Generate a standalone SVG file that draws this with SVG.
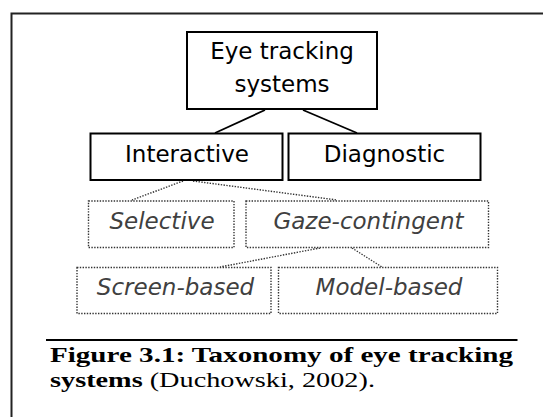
<svg xmlns="http://www.w3.org/2000/svg" width="543" height="417" viewBox="0 0 543 417">
<style>
.solid{fill:#fff;stroke:#000;stroke-width:2}
.dot{fill:#fff;stroke:#333;stroke-width:1.4;stroke-dasharray:1.4 1.4}
.t{font-family:"DejaVu Sans",Verdana,sans-serif;font-size:23px;fill:#000;text-anchor:middle}
.it{font-family:"DejaVu Sans",Verdana,sans-serif;font-size:23px;font-style:italic;fill:#404040;text-anchor:middle}
.cap{font-family:"Liberation Serif","Times New Roman",serif;font-size:22px;fill:#000}
.sl{stroke:#000;stroke-width:1.8;fill:none}
.dl{stroke:#333;stroke-width:1.4;stroke-dasharray:1.4 1.4;fill:none}
</style>
<rect width="543" height="417" fill="#fff"/>
<path d="M11.5,417 V13.5 H543" fill="none" stroke="#222" stroke-width="2"/>
<g id="connectors">
<line class="sl" x1="265" y1="110" x2="215" y2="133"/>
<line class="sl" x1="303" y1="110" x2="357" y2="133"/>
<line class="dl" x1="183" y1="181" x2="132" y2="200"/>
<line class="dl" x1="193" y1="181" x2="337" y2="200"/>
<line class="dl" x1="320" y1="248" x2="220" y2="267"/>
<line class="dl" x1="352" y1="248" x2="382" y2="267"/>
</g>
<g id="eye-tracking-systems">
<rect class="solid" x="187" y="32" width="190" height="77"/>
<text class="t" x="282" y="58.5">Eye tracking</text>
<text class="t" x="282" y="91.5">systems</text>
</g>
<g id="interactive">
<rect class="solid" x="90.5" y="133.5" width="192" height="46.5"/>
<text class="t" x="187" y="161.5">Interactive</text>
</g>
<g id="diagnostic">
<rect class="solid" x="288.5" y="133.5" width="192" height="46.5"/>
<text class="t" x="384.5" y="161.5">Diagnostic</text>
</g>
<g id="selective">
<rect class="dot" x="88.5" y="201" width="145.5" height="46.5"/>
<text class="it" x="162" y="228.5">Selective</text>
</g>
<g id="gaze-contingent">
<rect class="dot" x="246" y="201" width="242.5" height="46.5"/>
<text class="it" x="368.5" y="228.5">Gaze-contingent</text>
</g>
<g id="screen-based">
<rect class="dot" x="77" y="267.5" width="194" height="46"/>
<text class="it" x="175.5" y="295">Screen-based</text>
</g>
<g id="model-based">
<rect class="dot" x="278.5" y="267.5" width="219" height="46"/>
<text class="it" x="389" y="295">Model-based</text>
</g>
<g id="caption">
<line x1="46" y1="340" x2="517.5" y2="340" stroke="#000" stroke-width="2"/>
<text class="cap" x="50" y="362" font-weight="bold" textLength="463" lengthAdjust="spacingAndGlyphs">Figure 3.1: Taxonomy of eye tracking</text>
<text class="cap" x="50" y="387" textLength="325" lengthAdjust="spacingAndGlyphs"><tspan font-weight="bold">systems</tspan> (Duchowski, 2002).</text>
</g>
</svg>
